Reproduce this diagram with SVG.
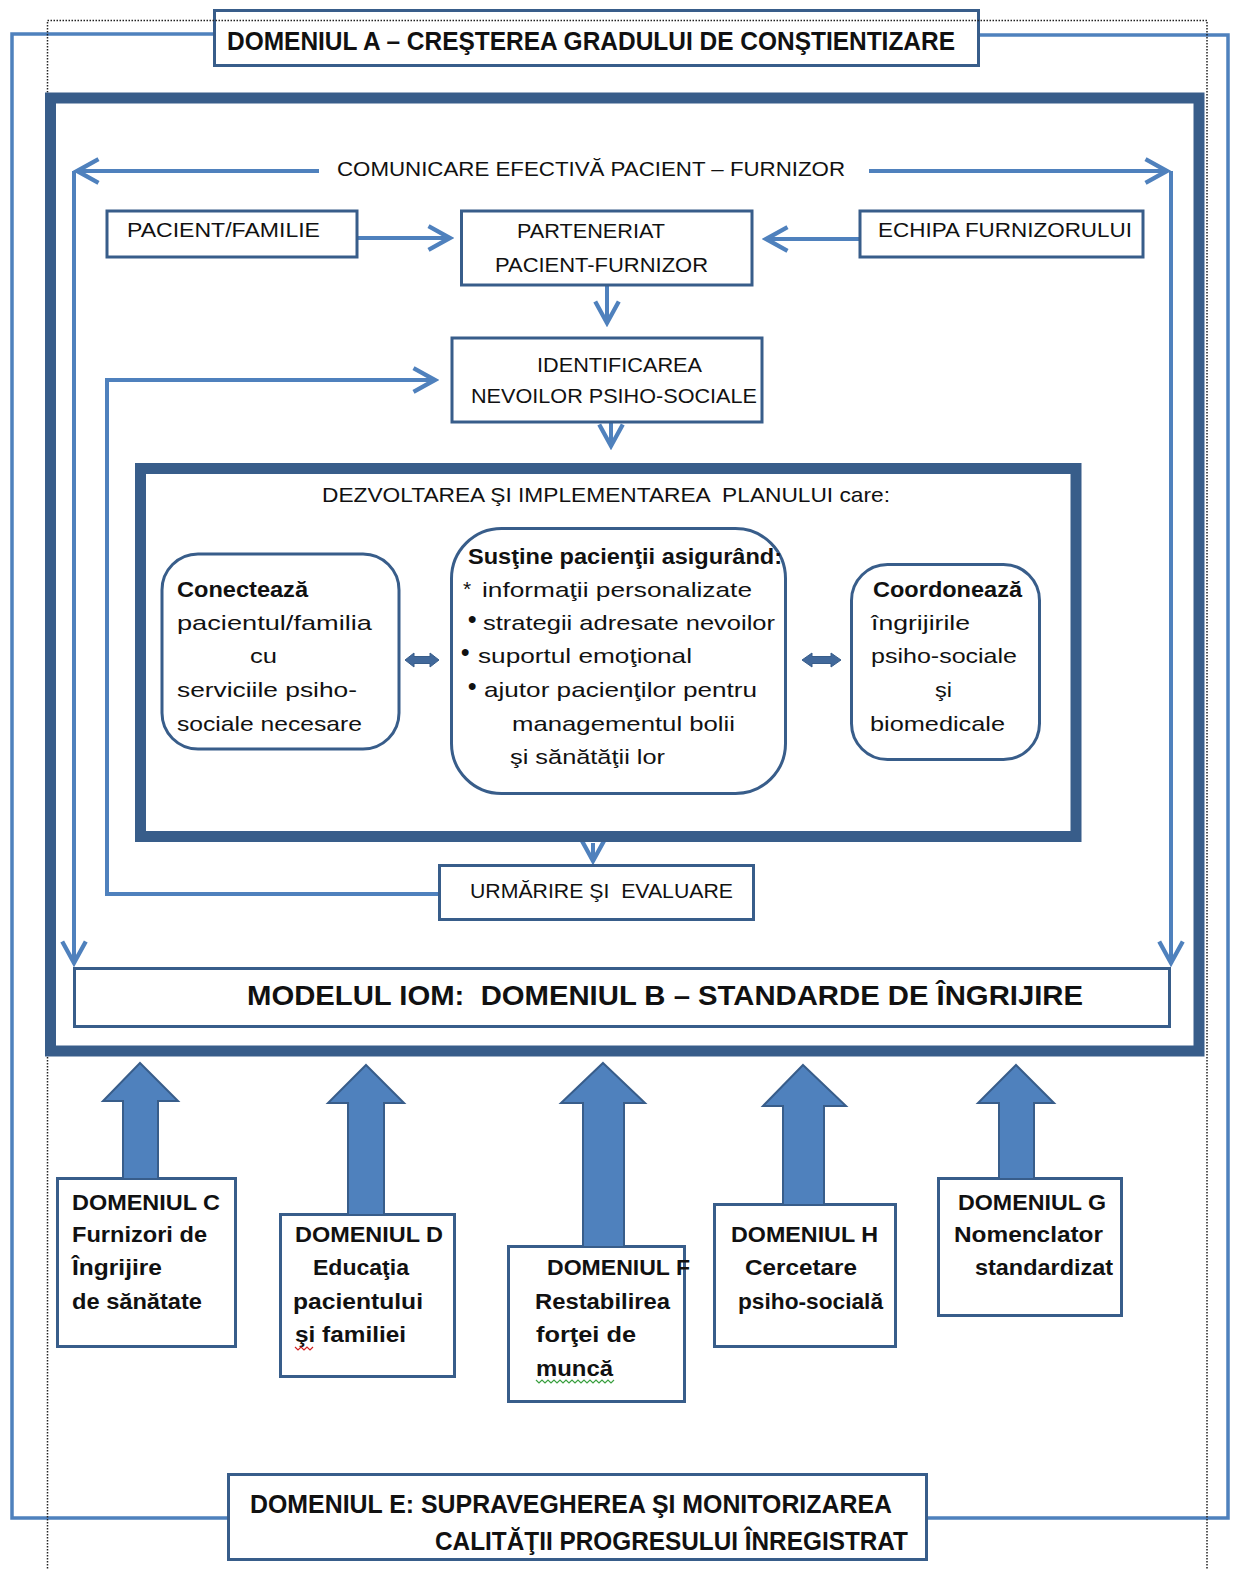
<svg xmlns="http://www.w3.org/2000/svg" width="1234" height="1569" viewBox="0 0 1234 1569">
<defs>
<style>
.box{fill:#fff;stroke:#385d8a;stroke-width:3}
.rbox{fill:#fff;stroke:#385d8a;stroke-width:3}
.frame{fill:none;stroke:#385d8a;stroke-width:11}
.con{fill:none;stroke:#4f81bd;stroke-width:4}
.outer{fill:none;stroke:#4f81bd;stroke-width:3.5}
.blk{fill:#4f81bd;stroke:#385d8a;stroke-width:2;stroke-linejoin:miter}
.dbl{fill:#41689a;stroke:#385d8a;stroke-width:1}
.t{font-family:"Liberation Sans",Arial,sans-serif;font-size:21px;fill:#111;white-space:pre}
.b{font-family:"Liberation Sans",Arial,sans-serif;font-size:22px;font-weight:bold;fill:#111;white-space:pre}
.h{font-family:"Liberation Sans",Arial,sans-serif;font-size:25px;font-weight:bold;fill:#111;white-space:pre}
.m{font-family:"Liberation Sans",Arial,sans-serif;font-size:28px;font-weight:bold;fill:#111;white-space:pre}
.bul{font-family:"Liberation Sans",Arial,sans-serif;font-size:24px;font-weight:bold;fill:#111}
</style>
<marker id="ah" markerUnits="userSpaceOnUse" markerWidth="30" markerHeight="30" viewBox="-24 -14 28 28" refX="1" refY="0" orient="auto">
<path d="M-20,-11 L0,0 L-20,11" fill="none" stroke="#4f81bd" stroke-width="4"/>
</marker>
</defs>
<rect width="1234" height="1569" fill="#fff"/>

<g id="outer-connectors">
<path class="outer" d="M214,34 H12 V1518 H228"/>
<path class="outer" d="M979,35 H1228 V1518 H927"/>
</g>

<g id="domain-a">
<rect class="box" x="214.5" y="10.5" width="764" height="55"/>
<text class="h" x="227" y="50" textLength="728" lengthAdjust="spacingAndGlyphs">DOMENIUL A – CREŞTEREA GRADULUI DE CONŞTIENTIZARE</text>
</g>

<rect id="dotted-frame" x="47.5" y="20.5" width="1159.5" height="1560" fill="none" stroke="#222" stroke-width="1.5" stroke-dasharray="1.5,1.5"/>

<g id="model-frame">
<rect class="frame" x="50.5" y="98" width="1148.5" height="953" fill="#fff"/>
</g>

<g id="connectors">
<path class="con" d="M319,171 H76" marker-end="url(#ah)"/>
<path class="con" d="M74,171 V964" marker-end="url(#ah)"/>
<path class="con" d="M869,171 H1168" marker-end="url(#ah)"/>
<path class="con" d="M1171,171 V964" marker-end="url(#ah)"/>
<path class="con" d="M358,238 H451" marker-end="url(#ah)"/>
<path class="con" d="M859,239 H765" marker-end="url(#ah)"/>
<path class="con" d="M607,286 V324" marker-end="url(#ah)"/>
<path class="con" d="M611,423 V447" marker-end="url(#ah)"/>
<path class="con" d="M593,843 V862" marker-end="url(#ah)"/>
<path class="con" d="M439,894 H107 V380 H436" marker-end="url(#ah)"/>
</g>

<g id="comunicare-label">
<text class="t" x="337" y="176" textLength="508" lengthAdjust="spacingAndGlyphs">COMUNICARE EFECTIVĂ PACIENT – FURNIZOR</text>
</g>

<g id="pacient-familie">
<rect class="box" x="107" y="211" width="250" height="46"/>
<text class="t" x="127" y="237" textLength="193" lengthAdjust="spacingAndGlyphs">PACIENT/FAMILIE</text>
</g>

<g id="parteneriat">
<rect class="box" x="461.5" y="211" width="290.5" height="74"/>
<text class="t" x="517" y="238" textLength="148" lengthAdjust="spacingAndGlyphs">PARTENERIAT</text>
<text class="t" x="495" y="272" textLength="213" lengthAdjust="spacingAndGlyphs">PACIENT-FURNIZOR</text>
</g>

<g id="echipa-furnizorului">
<rect class="box" x="860" y="211" width="283" height="46"/>
<text class="t" x="878" y="237" textLength="254" lengthAdjust="spacingAndGlyphs">ECHIPA FURNIZORULUI</text>
</g>

<g id="identificarea">
<rect class="box" x="452" y="338" width="310" height="84"/>
<text class="t" x="537" y="372" textLength="165" lengthAdjust="spacingAndGlyphs">IDENTIFICAREA</text>
<text class="t" x="471" y="403" textLength="286" lengthAdjust="spacingAndGlyphs">NEVOILOR PSIHO-SOCIALE</text>
</g>

<g id="dezvoltarea">
<rect class="frame" x="140.5" y="468.5" width="935.5" height="368" fill="#fff"/>
<text class="t" x="322" y="502" textLength="568" lengthAdjust="spacingAndGlyphs">DEZVOLTAREA ŞI IMPLEMENTAREA  PLANULUI care:</text>
</g>

<g id="conecteaza">
<rect class="rbox" x="162" y="554" width="237" height="195" rx="36" ry="36"/>
<text class="b" x="177" y="597" textLength="131" lengthAdjust="spacingAndGlyphs">Conectează</text>
<text class="t" x="177" y="630" textLength="195" lengthAdjust="spacingAndGlyphs">pacientul/familia</text>
<text class="t" x="250" y="663" textLength="27" lengthAdjust="spacingAndGlyphs">cu</text>
<text class="t" x="177" y="697" textLength="180" lengthAdjust="spacingAndGlyphs">serviciile psiho-</text>
<text class="t" x="177" y="731" textLength="185" lengthAdjust="spacingAndGlyphs">sociale necesare</text>
</g>

<g id="sustine">
<rect class="rbox" x="451.5" y="528.5" width="334" height="265" rx="50" ry="50"/>
<text class="b" x="468" y="564" textLength="314" lengthAdjust="spacingAndGlyphs">Susţine pacienţii asigurând:</text>
<text class="t" x="463" y="596" font-size="18">*</text>
<text class="t" x="482" y="597" textLength="270" lengthAdjust="spacingAndGlyphs">informaţii personalizate</text>
<text class="bul" x="468" y="627">•</text>
<text class="t" x="483" y="630" textLength="292" lengthAdjust="spacingAndGlyphs">strategii adresate nevoilor</text>
<text class="bul" x="461" y="660">•</text>
<text class="t" x="478" y="663" textLength="214" lengthAdjust="spacingAndGlyphs">suportul emoţional</text>
<text class="bul" x="468" y="694">•</text>
<text class="t" x="484" y="697" textLength="273" lengthAdjust="spacingAndGlyphs">ajutor pacienţilor pentru</text>
<text class="t" x="512" y="731" textLength="223" lengthAdjust="spacingAndGlyphs">managementul bolii</text>
<text class="t" x="510" y="764" textLength="155" lengthAdjust="spacingAndGlyphs">şi sănătăţii lor</text>
</g>

<g id="coordoneaza">
<rect class="rbox" x="851.5" y="564.5" width="188" height="195" rx="36" ry="36"/>
<text class="b" x="873" y="597" textLength="149" lengthAdjust="spacingAndGlyphs">Coordonează</text>
<text class="t" x="871" y="630" textLength="99" lengthAdjust="spacingAndGlyphs">îngrijirile</text>
<text class="t" x="871" y="663" textLength="146" lengthAdjust="spacingAndGlyphs">psiho-sociale</text>
<text class="t" x="935" y="697" textLength="17" lengthAdjust="spacingAndGlyphs">şi</text>
<text class="t" x="870" y="731" textLength="135" lengthAdjust="spacingAndGlyphs">biomedicale</text>
</g>

<g id="double-arrows">
<polygon class="dbl" points="405,660 414,653 414,656.5 430,656.5 430,653 439,660 430,667 430,663.5 414,663.5 414,667"/>
<polygon class="dbl" points="802,660 812,653 812,656.5 831,656.5 831,653 841,660 831,667 831,663.5 812,663.5 812,667"/>
</g>

<g id="urmarire">
<rect class="box" x="439.5" y="865.5" width="314" height="54"/>
<text class="t" x="470" y="898" textLength="263" lengthAdjust="spacingAndGlyphs">URMĂRIRE ŞI  EVALUARE</text>
</g>

<g id="domeniul-b">
<rect class="box" x="74.5" y="968.5" width="1095" height="58"/>
<text class="m" x="247" y="1005" textLength="836" lengthAdjust="spacingAndGlyphs">MODELUL IOM:  DOMENIUL B – STANDARDE DE ÎNGRIJIRE</text>
</g>

<g id="domeniul-c">
<rect class="box" x="57.5" y="1178.5" width="178" height="168"/>
<text class="b" x="72" y="1210" textLength="148" lengthAdjust="spacingAndGlyphs">DOMENIUL C</text>
<text class="b" x="72" y="1242" textLength="135" lengthAdjust="spacingAndGlyphs">Furnizori de</text>
<text class="b" x="72" y="1275" textLength="90" lengthAdjust="spacingAndGlyphs">Îngrijire</text>
<text class="b" x="72" y="1309" textLength="130" lengthAdjust="spacingAndGlyphs">de sănătate</text>
</g>

<g id="domeniul-d">
<rect class="box" x="280.5" y="1214.5" width="174" height="162"/>
<text class="b" x="295" y="1242" textLength="148" lengthAdjust="spacingAndGlyphs">DOMENIUL D</text>
<text class="b" x="313" y="1275" textLength="96" lengthAdjust="spacingAndGlyphs">Educaţia</text>
<text class="b" x="293" y="1309" textLength="130" lengthAdjust="spacingAndGlyphs">pacientului</text>
<text class="b" x="295" y="1342" textLength="111" lengthAdjust="spacingAndGlyphs">şi familiei</text>
<polyline points="295,1347 298,1350 301,1347 304,1350 307,1347 310,1350 313,1347" fill="none" stroke="#d02020" stroke-width="1.2"/>
</g>

<g id="domeniul-f">
<rect class="box" x="508.5" y="1246.5" width="176" height="155"/>
<text class="b" x="547" y="1275" textLength="143" lengthAdjust="spacingAndGlyphs">DOMENIUL F</text>
<text class="b" x="535" y="1309" textLength="135" lengthAdjust="spacingAndGlyphs">Restabilirea</text>
<text class="b" x="536" y="1342" textLength="100" lengthAdjust="spacingAndGlyphs">forţei de</text>
<text class="b" x="536" y="1376" textLength="77" lengthAdjust="spacingAndGlyphs">muncă</text>
<polyline points="536,1380 539,1383 542,1380 545,1383 548,1380 551,1383 554,1380 557,1383 560,1380 563,1383 566,1380 569,1383 572,1380 575,1383 578,1380 581,1383 584,1380 587,1383 590,1380 593,1383 596,1380 599,1383 602,1380 605,1383 608,1380 611,1383 614,1380" fill="none" stroke="#3aa040" stroke-width="1.2"/>
</g>

<g id="domeniul-h">
<rect class="box" x="714.5" y="1204.5" width="181" height="142"/>
<text class="b" x="731" y="1242" textLength="147" lengthAdjust="spacingAndGlyphs">DOMENIUL H</text>
<text class="b" x="745" y="1275" textLength="112" lengthAdjust="spacingAndGlyphs">Cercetare</text>
<text class="b" x="738" y="1309" textLength="145" lengthAdjust="spacingAndGlyphs">psiho-socială</text>
</g>

<g id="domeniul-g">
<rect class="box" x="938.5" y="1178.5" width="183" height="137"/>
<text class="b" x="958" y="1210" textLength="148" lengthAdjust="spacingAndGlyphs">DOMENIUL G</text>
<text class="b" x="954" y="1242" textLength="149" lengthAdjust="spacingAndGlyphs">Nomenclator</text>
<text class="b" x="975" y="1275" textLength="138" lengthAdjust="spacingAndGlyphs">standardizat</text>
</g>

<g id="block-arrows">
<polygon class="blk" points="140,1063 178,1101 158,1101 158,1179 123,1179 123,1101 103,1101"/>
<polygon class="blk" points="366,1065 404,1103 384,1103 384,1215 348,1215 348,1103 328,1103"/>
<polygon class="blk" points="603,1063 645,1103 624,1103 624,1247 583,1247 583,1103 561,1103"/>
<polygon class="blk" points="803,1065 846,1106 824,1106 824,1205 783,1205 783,1106 763,1106"/>
<polygon class="blk" points="1016,1065 1054,1103 1034,1103 1034,1179 999,1179 999,1103 978,1103"/>
</g>

<g id="domeniul-e">
<rect class="box" x="228.5" y="1474.5" width="698" height="85"/>
<text class="h" x="250" y="1513" textLength="642" lengthAdjust="spacingAndGlyphs">DOMENIUL E: SUPRAVEGHEREA ŞI MONITORIZAREA</text>
<text class="h" x="435" y="1550" textLength="473" lengthAdjust="spacingAndGlyphs">CALITĂŢII PROGRESULUI ÎNREGISTRAT</text>
</g>
</svg>
